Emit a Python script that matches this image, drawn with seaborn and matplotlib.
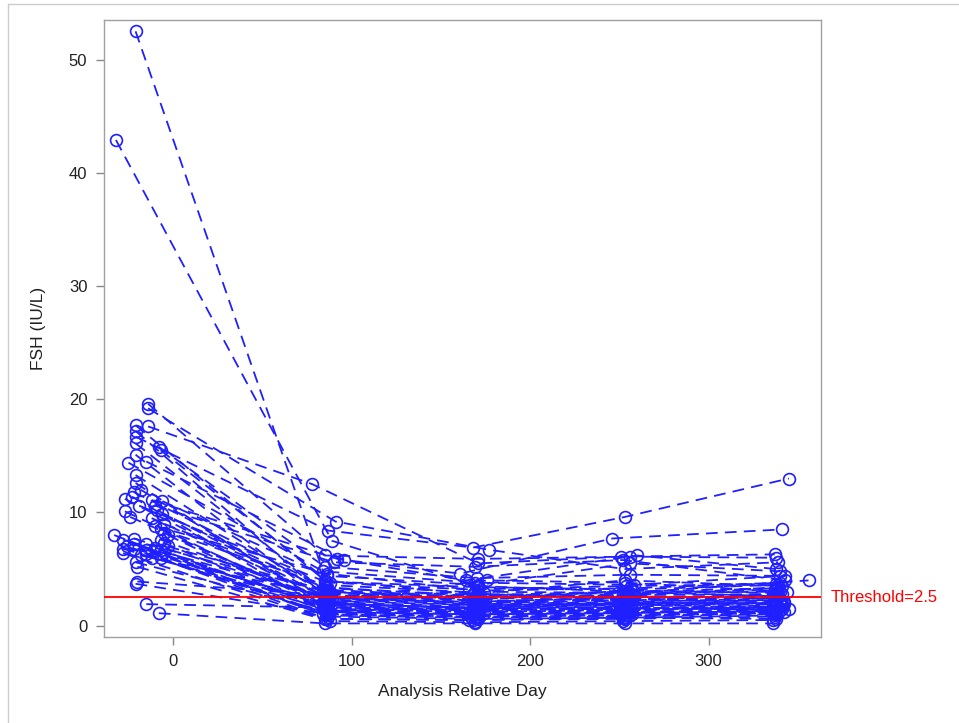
import numpy as np
import pandas as pd
import matplotlib
matplotlib.use("Agg")
import matplotlib.pyplot as plt
from matplotlib.lines import Line2D
import seaborn as sns

# Visit days and FSH values per subject (baseline, ~3 mo, ~6 mo, ~9 mo, ~12 mo)
day_v1 = [-21, -32, -14, -14, -21, -21, -21, -21, -14, -8, -7, -21, -25, -15, -21, -21, -22, -23, -27, -27,
          -12, -6, -9, -6, -33, -28, -22, -22, -22, -28, -28, -15, -15, -15, -7, -7, -7, -7, -21, -20,
          -20, -21, -15, -8, -5, -5, -5, -5, -12, -10, -18, -10, -24, -3, -3, -18, -10, -26, -19, -12]
fsh_v1 = [52.5, 42.9, 19.6, 19.2, 17.7, 17.2, 16.7, 16.1, 17.6, 15.8, 15.5, 15.1, 14.4, 14.5, 13.3, 12.6, 11.8, 11.4, 11.2, 10.1,
          11.1, 11.0, 10.2, 9.9, 8.0, 7.6, 7.7, 7.2, 6.8, 6.8, 6.4, 7.2, 6.7, 6.3, 8.5, 7.6, 6.7, 6.0, 5.6, 5.2,
          3.9, 3.7, 1.9, 1.1, 9.0, 8.2, 7.3, 6.5, 9.5, 10.6, 12.0, 8.8, 9.6, 7.0, 8.0, 6.2, 6.9, 7.0, 10.6, 6.0]
day_v2 = [88, 89, 85, 91, 85, 86, 87, 84, 78, 85, 88, 86, 84, 96, 85, 87, 85, 88, 85, 84,
          92, 86, 85, 87, 84, 85, 86, 87, 84, 86, 85, 88, 85, 86, 85, 87, 84, 86, 85, 88,
          85, 87, 86, 85, 86, 84, 87, 85, 89, 90, 85, 86, 87, 86, 85, 88, 85, 86, 85, 87]
fsh_v2 = [3.0, 7.5, 6.2, 9.2, 4.0, 2.5, 8.4, 3.2, 12.5, 5.2, 3.8, 2.0, 4.8, 5.8, 2.8, 1.5, 3.4, 1.2, 2.2, 1.8,
          5.9, 4.4, 2.6, 3.0, 1.0, 1.7, 2.4, 0.8, 2.1, 1.4, 0.6, 2.9, 1.9, 1.1, 3.6, 2.3, 1.6, 0.9, 1.3, 0.4,
          2.7, 1.0, 1.6, 0.2, 3.3, 2.0, 1.2, 2.5, 2.3, 5.6, 2.0, 4.6, 1.9, 3.1, 1.4, 2.6, 1.3, 0.6, 3.9, 1.8]
day_v3 = [170, 170, 171, 177, 168, 171, 168, 169, 171, 170, 166, 170, 169, 161, 172, 169, 170, 168, 173, 169,
          164, 171, 169, 175, 167, 170, 168, 171, 170, 169, 166, 172, 170, 168, 174, 169, 171, 170, 167, 169,
          171, 170, 168, 169, 172, 170, 168, 171, 176, 169, 170, 171, 168, 170, 174, 169, 170, 168, 171, 169]
fsh_v3 = [2.2, 3.5, 5.9, 6.7, 2.8, 1.8, 6.9, 2.5, 5.5, 4.2, 3.2, 1.5, 3.8, 4.6, 2.0, 1.2, 2.6, 1.0, 1.8, 1.4,
          4.0, 3.6, 2.0, 2.4, 0.8, 1.3, 2.1, 0.6, 1.7, 1.1, 0.5, 2.3, 1.6, 0.9, 2.9, 1.9, 1.2, 0.7, 1.0, 0.3,
          2.2, 0.8, 1.4, 0.2, 2.7, 1.5, 1.0, 2.0, 4.0, 5.2, 2.8, 3.1, 1.6, 2.5, 1.1, 3.0, 1.6, 0.5, 3.4, 1.3]
day_v4 = [253, 255, 256, 253, 252, 250, 253, 254, 251, 256, 254, 252, 258, 246, 255, 253, 249, 252, 257, 253,
          260, 256, 252, 254, 251, 253, 255, 252, 256, 250, 253, 254, 252, 257, 253, 255, 251, 253, 254, 252,
          256, 253, 255, 253, 252, 258, 250, 254, 253, 252, 248, 256, 253, 255, 252, 256, 254, 252, 257, 253]
fsh_v4 = [1.8, 3.0, 6.1, 5.0, 2.4, 2.0, 9.6, 2.2, 6.1, 4.5, 3.5, 1.6, 3.6, 7.7, 2.6, 1.4, 2.9, 1.1, 2.0, 1.5,
          6.2, 5.5, 2.3, 2.8, 0.9, 1.2, 2.5, 0.7, 1.9, 1.3, 0.6, 3.1, 1.8, 1.0, 4.0, 2.1, 1.4, 0.8, 1.2, 0.4,
          2.4, 0.9, 1.5, 0.2, 3.0, 1.7, 1.1, 2.2, 3.8, 5.8, 2.6, 3.3, 2.0, 2.7, 1.2, 2.9, 1.9, 0.7, 3.2, 1.6]
day_v5 = [340, 338, 338, 339, 337, 341, 345, 336, 337, 340, 338, 337, 343, 341, 338, 336, 340, 338, 342, 337,
          338, 340, 339, 337, 336, 341, 338, 337, 340, 338, 337, 339, 336, 342, 341, 337, 339, 338, 340, 336,
          337, 339, 341, 336, 338, 342, 337, 340, 344, 343, 339, 340, 337, 341, 338, 356, 345, 338, 339, 337]
fsh_v5 = [2.0, 2.6, 6.0, 5.6, 2.2, 1.9, 13.0, 2.8, 6.3, 4.4, 3.7, 1.4, 4.4, 8.5, 2.4, 1.6, 3.0, 1.3, 2.1, 1.8,
          5.0, 4.8, 2.5, 3.2, 1.1, 1.5, 2.7, 0.9, 2.3, 1.7, 0.8, 2.9, 2.0, 1.2, 3.5, 2.4, 1.6, 1.0, 1.4, 0.5,
          2.6, 1.1, 1.7, 0.2, 3.3, 1.9, 1.3, 2.2, 3.0, 4.0, 3.4, 3.8, 2.0, 2.8, 1.2, 4.0, 1.5, 0.6, 3.6, 1.4]

threshold = 2.5
x_ticks = [0, 100, 200, 300]
y_ticks = [0, 10, 20, 30, 40, 50]

days = [day_v1, day_v2, day_v3, day_v4, day_v5]
vals = [fsh_v1, fsh_v2, fsh_v3, fsh_v4, fsh_v5]
rows = []
for d_list, v_list in zip(days, vals):
    for subj, (d, v) in enumerate(zip(d_list, v_list)):
        rows.append({"subject": subj, "day": d, "fsh": v})
df = pd.DataFrame(rows)

sns.set_theme(style="white")
plt.rcParams['font.family'] = ['Liberation Sans', 'DejaVu Sans']

fig = plt.figure(figsize=(9.59, 7.23), dpi=100)
ax = fig.add_axes([104/959, 86/723, (821-104)/959, (637-20)/723])

blue = "#1f1fff"
sns.lineplot(data=df, x="day", y="fsh", units="subject", estimator=None, ax=ax,
             color=blue, linewidth=1.3, dashes=False, linestyle=(0, (6.5, 4)),
             marker="o", markersize=8.5, markerfacecolor="none",
             markeredgecolor=blue, markeredgewidth=1.2, legend=False)

ax.axhline(threshold, color="#ff0000", linewidth=1.3, zorder=5)
ax.text(1.013, threshold, "Threshold=2.5", color="#ff0000", fontsize=12,
        va="center", ha="left", transform=ax.get_yaxis_transform())

ax.set_xlim(-38.7, 363)
ax.set_ylim(-1.0, 53.5)
ax.set_xticks(x_ticks)
ax.set_yticks(y_ticks)
ax.set_xlabel("Analysis Relative Day", fontsize=12.5, color="#222222", labelpad=11)
ax.set_ylabel("FSH (IU/L)", fontsize=12.5, color="#222222", labelpad=16)
ax.tick_params(axis="both", which="both", direction="out", length=6, width=1, pad=6,
               color="#888888", labelsize=12, labelcolor="#222222", bottom=True, left=True)
for s in ax.spines.values():
    s.set_color("#a0a0a0")
    s.set_linewidth(1.0)

# page frame border
fig.add_artist(Line2D([8/959, 1], [1 - 4/723, 1 - 4/723], color="#cccccc", lw=1, transform=fig.transFigure))
fig.add_artist(Line2D([8/959, 8/959], [0, 1 - 4/723], color="#cccccc", lw=1, transform=fig.transFigure))

fig.savefig("out.png", dpi=100, facecolor="white")
